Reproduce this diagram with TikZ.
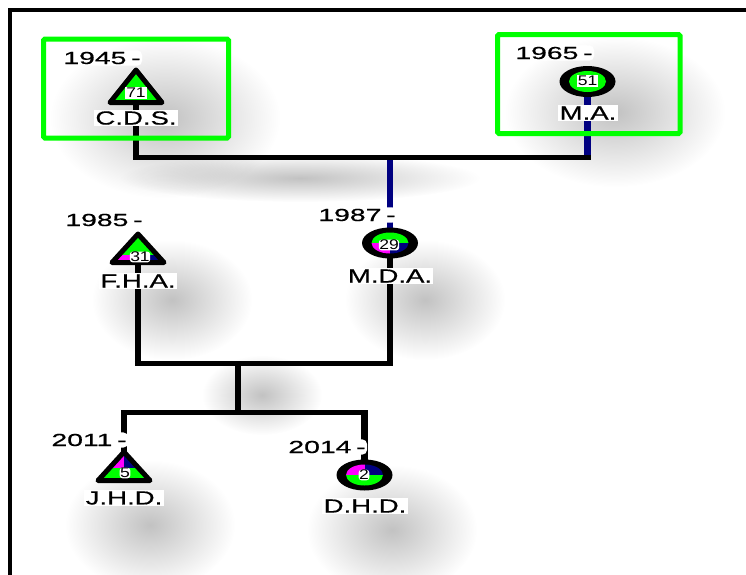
\documentclass[tikz,border=0pt]{standalone}
\usepackage{graphicx}
\usepackage{fontspec}
\setmainfont{Liberation Sans}
\newfontfamily\heavyfont[FakeBold=0.5]{Liberation Sans}
\usetikzlibrary{fadings}
\definecolor{gr}{RGB}{0,255,0}
\definecolor{mg}{RGB}{255,0,255}
\definecolor{nv}{RGB}{0,0,128}
\tikzfading[name=glow, inner color=transparent!76, outer color=transparent!100]
\newcommand{\yeartxt}[1]{\scalebox{1.62}[1]{#1}}
\newcommand{\nametxt}[1]{\scalebox{1.45}[1]{#1}}
\newcommand{\numtxt}[1]{\scalebox{1.25}[1]{#1}}
\begin{document}
\begin{tikzpicture}[x=1pt,y=-1pt,
  yearlbl/.style={fill=white, rounded corners=5pt, inner sep=1.5pt, font=\heavyfont\fontsize{17.5}{17.5}\selectfont},
  namelbl/.style={fill=white, inner sep=1.4pt, font=\heavyfont\fontsize{19}{19}\selectfont},
  numbox/.style={fill=white, inner sep=1pt, font=\fontsize{14}{14}\selectfont},
  numhalo/.style={fill=white, rounded corners=3pt, inner sep=0.5pt, font=\fontsize{14}{14}\selectfont},
  holder/.style={inner sep=0pt, minimum width=56pt, minimum height=31pt},
  vline/.style={line width=6.5pt},
  hline/.style={line width=5pt},
  greenbox/.style={draw=gr, line width=5pt, inner sep=0pt, rounded corners=1.5pt},
  shadowblob/.style={fill=black, path fading=glow},
  shapeline/.style={line width=5pt, line join=round}
]
\useasboundingbox (0,0) rectangle (746,574);
\clip (0,0) rectangle (746,574);

% shadows
\foreach \sx/\sy/\rx/\ry in {165/118/115/80, 615/112/110/75, 172/300/80/60, 425/300/80/60,
  150/525/85/65, 392/530/85/65, 262/395/60/40, 300/178/180/24}
  \fill[shadowblob] (\sx,\sy) ellipse [x radius=\rx pt, y radius=\ry pt];

% holders for the person shapes
\node[holder] (cds) at (136,86) {};
\node[holder] (ma)  at (587.5,81.5) {};
\node[holder] (fha) at (138,248) {};
\node[holder] (mda) at (390,243) {};
\node[holder] (jhd) at (124,466) {};
\node[holder] (dhd) at (364.5,475) {};
\coordinate (j1) at (390,157);
\coordinate (j2) at (238,363);
\coordinate (j3) at (238,412);

% frame
\draw[line width=4pt] (9.5,590) -- (9.5,9.5) -- (760,9.5);

% connectors
\draw[vline, nv] (ma.center) -- (ma |- j1);
\draw[vline, nv] (j1) -- (mda.center);
\draw[vline] (cds.center) -- (cds |- j1);
\draw[hline] ([xshift=-3.25pt]cds |- j1) -- ([xshift=3.25pt]ma |- j1);
\draw[vline] (fha.center) -- (fha |- j2);
\draw[vline] (mda.center) -- (mda |- j2);
\draw[hline] ([xshift=-3.25pt]fha |- j2) -- ([xshift=3.25pt]mda |- j2);
\draw[vline] (j2) -- (j3);
\draw[hline] ([xshift=-3.25pt]jhd |- j3) -- ([xshift=3.25pt]dhd |- j3);
\draw[vline] (jhd |- j3) -- (jhd.center);
\draw[vline] (dhd |- j3) -- (dhd.center);

% green boxes
\node[greenbox, minimum width=185pt, minimum height=99pt] (boxa) at (136,88.5) {};
\node[greenbox, minimum width=182.5pt, minimum height=99pt] (boxb) at (588.75,84) {};

% C.D.S. triangle
\begin{scope}[shift={(cds.center)}]
  \filldraw[shapeline, fill=gr] (0,-16) -- (26,16.5) -- (-26,16.5) -- cycle;
\end{scope}
% F.H.A. triangle
\begin{scope}[shift={(fha.center)}]
  \begin{scope}
    \clip (0,-14) -- (26,14.5) -- (-26,14.5) -- cycle;
    \fill[gr] (-30,-20) rectangle (30,7);
    \fill[mg] (-30,7) rectangle (2,20);
    \fill[nv] (2,7) rectangle (30,20);
  \end{scope}
  \draw[shapeline] (0,-14) -- (26,14.5) -- (-26,14.5) -- cycle;
\end{scope}
% J.H.D. triangle
\begin{scope}[shift={(jhd.center)}]
  \begin{scope}
    \clip (0,-14) -- (26,14.5) -- (-26,14.5) -- cycle;
    \fill[mg] (-30,-20) rectangle (0,2);
    \fill[nv] (0,-20) rectangle (30,2);
    \fill[gr] (-30,2) rectangle (30,20);
  \end{scope}
  \draw[shapeline] (0,-14) -- (26,14.5) -- (-26,14.5) -- cycle;
\end{scope}
% M.A. ellipse
\begin{scope}[shift={(ma.center)}]
  \fill (0,0) ellipse [x radius=28pt, y radius=15.5pt];
  \fill[gr] (0,0) ellipse [x radius=18.5pt, y radius=10.5pt];
\end{scope}
% M.D.A. ellipse
\begin{scope}[shift={(mda.center)}]
  \fill (0,0) ellipse [x radius=28pt, y radius=15.5pt];
  \begin{scope}
    \clip (0,0) ellipse [x radius=18.5pt, y radius=10.5pt];
    \fill[gr] (-20,-12) rectangle (20,0);
    \fill[mg] (-20,0) rectangle (0,12);
    \fill[nv] (0,0) rectangle (20,12);
  \end{scope}
\end{scope}
% D.H.D. ellipse
\begin{scope}[shift={(dhd.center)}]
  \fill (0,0) ellipse [x radius=28pt, y radius=15.5pt];
  \begin{scope}
    \clip (0,0) ellipse [x radius=18.5pt, y radius=10.5pt];
    \fill[mg] (-20,-12) rectangle (0,0);
    \fill[nv] (0,-12) rectangle (20,0);
    \fill[gr] (-20,0) rectangle (20,12);
  \end{scope}
\end{scope}

% numbers
\node[numbox] (n71) at (136,93) {\numtxt{71}};
\node[numbox] (n51) at (587.5,81) {\numtxt{51}};
\node[numhalo] (n31) at (140,257) {\numtxt{31}};
\node[numhalo] (n29) at (389,245) {\numtxt{29}};
\node[numhalo] (n5) at (125,473) {\numtxt{5}};
\node[numhalo] (n2) at (364,475) {\numtxt{2}};

% names
\node[namelbl] (lcds) at (136,118) {\nametxt{C.D.S.}};
\node[namelbl] (lma) at (588,113) {\nametxt{M.A.}};
\node[namelbl] (lfha) at (138,281) {\nametxt{F.H.A.}};
\node[namelbl] (lmda) at (390,276) {\nametxt{M.D.A.}};
\node[namelbl] (ljhd) at (124,498) {\nametxt{J.H.D.}};
\node[namelbl] (ldhd) at (365,506) {\nametxt{D.H.D.}};

% years
\node[yearlbl] (y1945) at (102,58) {\yeartxt{1945\,-}};
\node[yearlbl] (y1965) at (554,53) {\yeartxt{1965\,-}};
\node[yearlbl] (y1985) at (104,220) {\yeartxt{1985\,-}};
\node[yearlbl] (y1987) at (357,215) {\yeartxt{1987\,-}};
\node[yearlbl] (y2011) at (89,440) {\yeartxt{2011\,-}};
\node[yearlbl] (y2014) at (327,447) {\yeartxt{2014\,-}};
\end{tikzpicture}
\end{document}
